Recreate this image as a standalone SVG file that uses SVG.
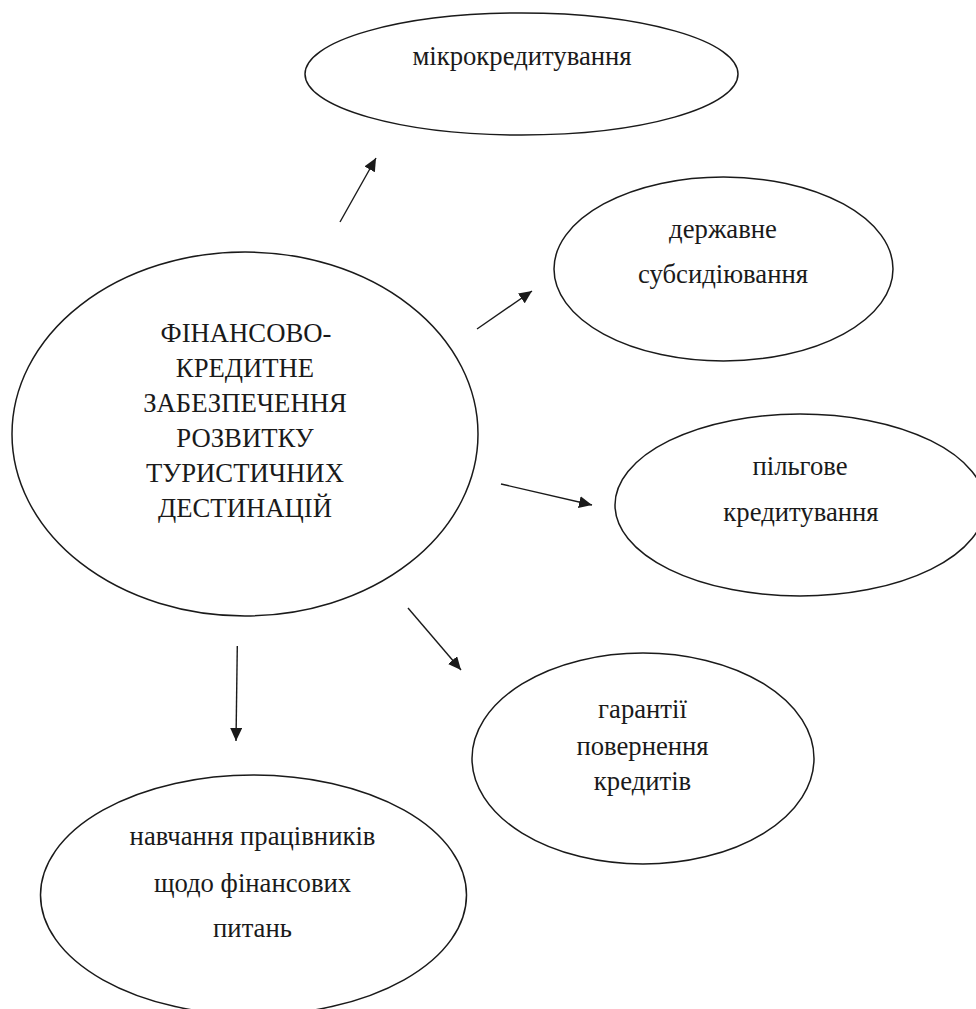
<svg xmlns="http://www.w3.org/2000/svg" width="976" height="1009" viewBox="0 0 976 1009">
<style>
  .node ellipse { fill: #ffffff; stroke: #1a1a1a; stroke-width: 1.5; }
  .node text { font-size: 26.7px; fill: #1a1a1a; text-anchor: middle; }
  .conn line { stroke: #1a1a1a; stroke-width: 1.4; marker-end: url(#arr); }
</style>
<defs>
  <marker id="arr" markerUnits="userSpaceOnUse" markerWidth="14" markerHeight="12" refX="13" refY="6" orient="auto" viewBox="0 0 14 12">
    <path d="M0,0 L13,6 L0,12 z" fill="#1a1a1a"/>
  </marker>
</defs>
<rect width="976" height="1009" fill="#ffffff"/>
<g id="connectors" class="conn">
  <line x1="340" y1="222" x2="376" y2="158"/>
  <line x1="477" y1="329" x2="532" y2="291"/>
  <line x1="501" y1="484" x2="592" y2="505"/>
  <line x1="408" y1="608" x2="461" y2="670"/>
  <line x1="237.3" y1="646" x2="236" y2="741"/>
</g>
<g id="nodes" font-family="Liberation Serif">
<g id="node-microcredit" class="node">
  <ellipse cx="521.5" cy="74" rx="216.5" ry="61"/>
  <text x="522" y="65">мікрокредитування</text>
</g>
<g id="node-subsidy" class="node">
  <ellipse cx="723.5" cy="269" rx="169.5" ry="92"/>
  <text x="723" y="238">державне</text>
  <text x="723" y="283">субсидіювання</text>
</g>
<g id="node-center" class="node">
  <ellipse cx="245" cy="434" rx="233" ry="182"/>
  <text x="246" y="342">ФІНАНСОВО-</text>
  <text x="245" y="377">КРЕДИТНЕ</text>
  <text x="245" y="412">ЗАБЕЗПЕЧЕННЯ</text>
  <text x="245" y="447">РОЗВИТКУ</text>
  <text x="245" y="482">ТУРИСТИЧНИХ</text>
  <text x="245" y="517">ДЕСТИНАЦІЙ</text>
</g>
<g id="node-preferential" class="node">
  <ellipse cx="800" cy="505" rx="185" ry="91"/>
  <text x="800" y="475">пільгове</text>
  <text x="801" y="521">кредитування</text>
</g>
<g id="node-guarantees" class="node">
  <ellipse cx="643" cy="758.5" rx="171" ry="105.5"/>
  <text x="642.5" y="718">гарантії</text>
  <text x="642.5" y="755">повернення</text>
  <text x="642.5" y="790">кредитів</text>
</g>
<g id="node-training" class="node">
  <ellipse cx="253.5" cy="895" rx="213" ry="120"/>
  <text x="252.5" y="845">навчання працівників</text>
  <text x="252.5" y="892">щодо фінансових</text>
  <text x="252.5" y="937">питань</text>
</g>
</g>
</svg>
